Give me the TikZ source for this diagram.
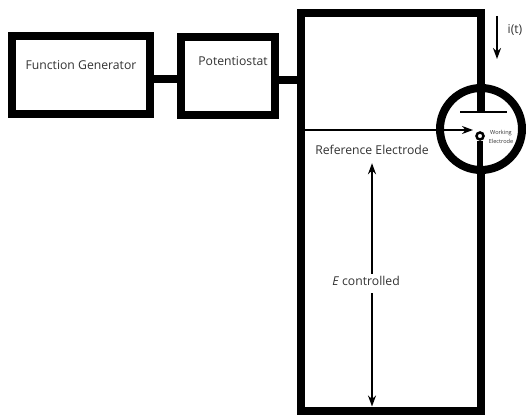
\documentclass[tikz,border=0pt]{standalone}
\usepackage{fontspec}
\setmainfont{Open Sans}
\usepackage{xcolor}
\usepackage{tikz}
\usetikzlibrary{arrows.meta,positioning}
\definecolor{txtgray}{HTML}{333333}
\tikzset{blk/.style={draw=black,fill=white,line width=8pt,minimum height=78pt},
         wire/.style={line width=8pt},
         ar/.style={line width=2pt,-{Stealth[length=11pt,width=8pt]}},
         lbl/.style={font=\fontsize{12.2pt}{14pt}\selectfont,text=txtgray,align=center,inner sep=0pt}}

\begin{document}
\begin{tikzpicture}[x=1pt,y=-1pt]
\useasboundingbox (0,0) rectangle (526,414);
\node[blk,minimum width=138pt] (fg) at (81,75) {};
\node[blk,minimum width=94pt] (pot) at (228,76) {};
\node[blk,minimum width=180pt,minimum height=397pt] (cell) at (390.5,212) {};
\draw[wire] ([yshift=-4pt]fg.east) -- ([yshift=-3pt]pot.west);
\draw[wire] ([yshift=-4pt]pot.east) -- ([yshift=-4pt]pot.east -| cell.west);
\node[lbl] (fglbl) at (81,65.5) {Function Generator};
\node[lbl] (potlbl) at (233,61.5) {Potentiostat};
% working electrode cell
\node[circle,draw=black,fill=white,line width=8pt,minimum size=82pt,inner sep=0pt] (wcell) at (481,129) {};
\node[fill=black,minimum width=47pt,minimum height=2.5pt,inner sep=0pt] (plate) at (483.5,112) {};
\node[circle,draw=black,fill=white,line width=2.5pt,minimum size=7pt,inner sep=0pt] (we) at (480,136) {};
\draw[wire] (wcell.north) -- (wcell.north |- plate.north);
\draw[line width=6.5pt] (we.south) -- (wcell.south -| we.south);
\node[lbl,font=\fontsize{5.6pt}{9pt}\selectfont] (welbl) at (501,136.5) {Working\\Electrode};
% reference electrode
\coordinate (refin) at (305,130);
\coordinate (reftip) at (473,130);
\draw[ar] (refin) -- (reftip);
\node[lbl,minimum height=26pt] (refel) at (372,150) {Reference Electrode};
\node[lbl,minimum height=24pt] (ectl) at (366,281) {\textit{E} controlled};
\coordinate (ebot) at (372,406.5);
\draw[ar,{Stealth[length=11pt,width=8pt]}-] (refel.south) -- ([yshift=-5pt]refel.south |- ectl.north);
\draw[ar] (refel.south |- ectl.south) -- (ebot);
% current
\coordinate (itop) at (497,16);
\coordinate (ibot) at (497,59);
\draw[ar] (itop) -- (ibot);
\node[lbl] (ilbl) at (515,29.5) {i(t)};
\end{tikzpicture}
\end{document}
